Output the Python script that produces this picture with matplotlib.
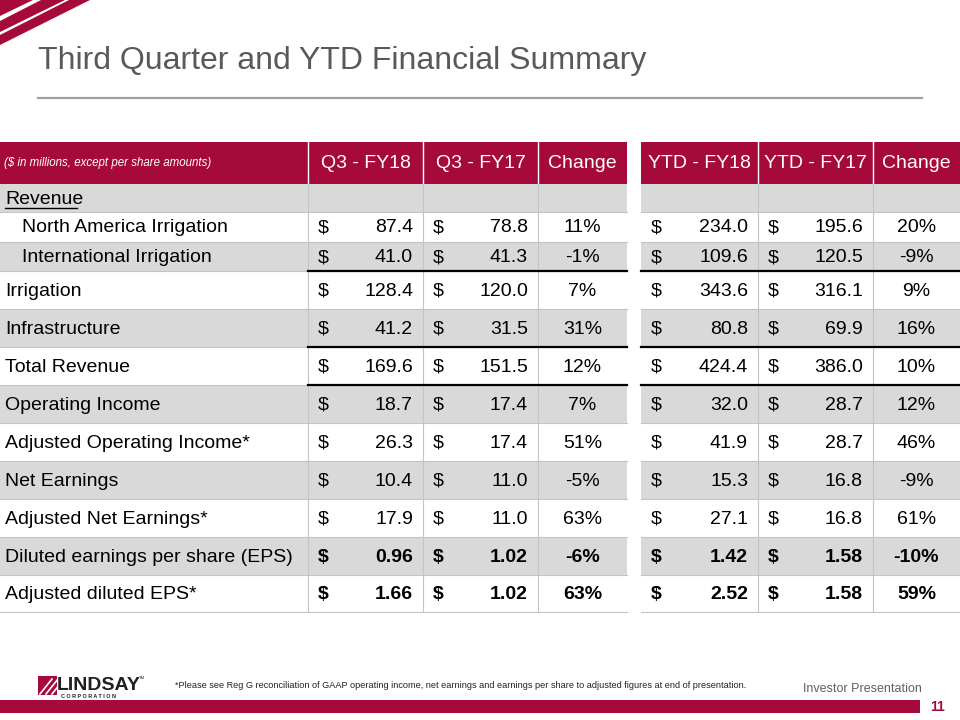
#Resumen financiero del tercer trimestre - tabla dibujada con matplotlib
import matplotlib.pyplot as plt
from matplotlib.patches import Rectangle, Polygon

plt.rcParams['font.family'] = ['Liberation Sans', 'DejaVu Sans']

#Datos de la tabla
labels = ["Revenue", "North America Irrigation", "International Irrigation",
          "Irrigation", "Infrastructure", "Total Revenue", "Operating Income",
          "Adjusted Operating Income*", "Net Earnings", "Adjusted Net Earnings*",
          "Diluted earnings per share (EPS)", "Adjusted diluted EPS*"]
indent = [0, 1, 1, 0, 0, 0, 0, 0, 0, 0, 0, 0]
q3_fy18 = [None, 87.4, 41.0, 128.4, 41.2, 169.6, 18.7, 26.3, 10.4, 17.9, 0.96, 1.66]
q3_fy17 = [None, 78.8, 41.3, 120.0, 31.5, 151.5, 17.4, 17.4, 11.0, 11.0, 1.02, 1.02]
q3_chg = [None, 11, -1, 7, 31, 12, 7, 51, -5, 63, -6, 63]
ytd_fy18 = [None, 234.0, 109.6, 343.6, 80.8, 424.4, 32.0, 41.9, 15.3, 27.1, 1.42, 2.52]
ytd_fy17 = [None, 195.6, 120.5, 316.1, 69.9, 386.0, 28.7, 28.7, 16.8, 16.8, 1.58, 1.58]
ytd_chg = [None, 20, -9, 9, 16, 10, 12, 46, -9, 61, -10, 59]
headers = ["Q3 - FY18", "Q3 - FY17", "Change", "YTD - FY18", "YTD - FY17", "Change"]
eps_rows = [10, 11]

#Colores
red = "#A50A3B"
gray = "#D9D9D9"
line_gray = "#C4C4C4"

fig = plt.figure(figsize=(9.6, 7.2), dpi=100)
ax = fig.add_axes([0, 0, 1, 1])
ax.set_xlim(0, 960)
ax.set_ylim(720, 0)
ax.axis('off')

#Franjas rojas de la esquina
ax.add_patch(Polygon([[0, 0], [33, 0], [0, 16]], color=red, lw=0))
ax.add_patch(Polygon([[41, 0], [65, 0], [0, 32], [0, 21]], color=red, lw=0))
ax.add_patch(Polygon([[69, 0], [90, 0], [0, 45], [0, 35]], color=red, lw=0))

#Titulo
ax.text(38, 69, "Third Quarter and YTD Financial Summary", fontsize=23,
        color="#595959", va="baseline", ha="left")
ax.plot([38, 922], [98, 98], color="#A0A0A0", lw=1.6)

#Geometria de la tabla
head_top, head_bot = 142, 184
row_edges = [184, 212, 242, 271, 309, 347, 385, 423, 461, 499, 537, 575, 612]
blocks = [(0, 627), (641, 960)]
num_cols = [(308, 423), (423, 538), (538, 627), (641, 758), (758, 873), (873, 960)]

#Encabezado
for x0, x1 in blocks:
    ax.add_patch(Rectangle((x0, head_top), x1 - x0, head_bot - head_top, color=red, lw=0))
for x in [308, 423, 538, 758, 873]:
    ax.plot([x, x], [head_top, head_bot], color="white", lw=1)
ax.text(4, 163, "($ in millions, except per share amounts)", fontsize=8.3,
        style="italic", color="white", va="center", ha="left")
for (x0, x1), h in zip(num_cols, headers):
    ax.text((x0 + x1) / 2, 163, h, fontsize=14, color="white", va="center", ha="center")

#Filas
for i in range(len(labels)):
    y0, y1 = row_edges[i], row_edges[i + 1]
    yc = (y0 + y1) / 2
    if i % 2 == 0:
        for x0, x1 in blocks:
            ax.add_patch(Rectangle((x0, y0), x1 - x0, y1 - y0, color=gray, lw=0))
    w = "bold" if i in eps_rows else "normal"
    fmt = "{:.2f}" if i in eps_rows else "{:.1f}"
    ax.text(5 + 17 * indent[i], yc + 1, labels[i], fontsize=14, va="center", ha="left",
            color="black")
    vals = [q3_fy18[i], q3_fy17[i], q3_chg[i], ytd_fy18[i], ytd_fy17[i], ytd_chg[i]]
    for j, ((x0, x1), v) in enumerate(zip(num_cols, vals)):
        if v is None:
            continue
        if j in (2, 5):
            ax.text((x0 + x1) / 2, yc + 1, "{}%".format(v), fontsize=14, weight=w,
                    va="center", ha="center")
        else:
            ax.text(x0 + 10, yc + 1, "$", fontsize=14, weight=w, va="center", ha="left")
            ax.text(x1 - 10, yc + 1, fmt.format(v), fontsize=14, weight=w,
                    va="center", ha="right")

#Subrayado de "Revenue"
ax.plot([5, 77], [208, 208], color="black", lw=1)

#Lineas de la tabla
for x0, x1 in blocks:
    for y in row_edges[1:]:
        ax.plot([x0, x1], [y, y], color=line_gray, lw=0.8)
for x in [308, 423, 538, 758, 873]:
    ax.plot([x, x], [head_bot, row_edges[-1]], color=line_gray, lw=0.8)
for y in [271, 347, 385]:
    ax.plot([308, 627], [y, y], color="black", lw=1.6)
    ax.plot([641, 960], [y, y], color="black", lw=1.6)

#Logo
ax.add_patch(Rectangle((38, 676), 19, 19, color=red, lw=0))
for k in range(3):
    ax.plot([40 + 6 * k, 52 + 6 * k], [694, 679], color="white", lw=1.2)
ax.text(57, 690, "LINDSAY", fontsize=14, weight="bold", color="#231F20",
        va="baseline", ha="left")
ax.text(139, 678, "TM", fontsize=3, color="#231F20", va="center", ha="left")
ax.text(61, 696, "C O R P O R A T I O N", fontsize=3.9, weight="bold", color="#231F20",
        va="center", ha="left")

#Nota al pie
ax.text(175, 686, "*Please see Reg G reconciliation of GAAP operating income, net earnings "
        "and earnings per share to adjusted figures at end of presentation.",
        fontsize=6.6, color="#222222", va="center", ha="left")
ax.text(922, 689, "Investor Presentation", fontsize=9, color="#606060",
        va="center", ha="right")

#Banda inferior
ax.add_patch(Rectangle((0, 700), 920, 13, color=red, lw=0))
ax.text(930, 707, "11", fontsize=10, weight="bold", color=red, va="center", ha="left")

plt.savefig("out.png", dpi=100)
